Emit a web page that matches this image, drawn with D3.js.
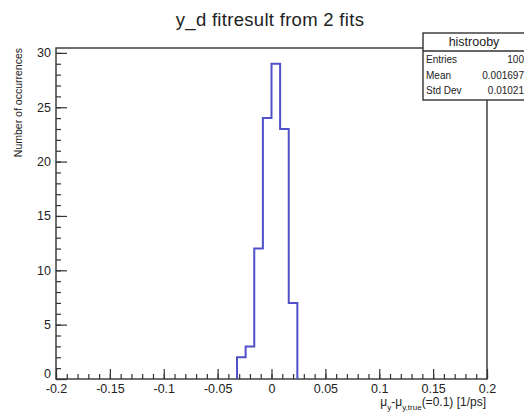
<!DOCTYPE html>
<html>
<head>
<meta charset="utf-8">
<script src="https://cdn.jsdelivr.net/npm/d3@7"></script>
<style>
  body { margin: 0; background: #fff; }
  text { font-family: "Liberation Sans", Arial, sans-serif; fill: #222; }
</style>
</head>
<body>
<div id="chart"></div>
<script>
// histogram data
const binEdges = [-0.032, -0.024, -0.016, -0.008, 0, 0.008, 0.016, 0.024];
const counts = [2, 3, 12, 24, 29, 23, 7];

const xTickValues = [-0.2, -0.15, -0.1, -0.05, 0, 0.05, 0.1, 0.15, 0.2];
const yTickValues = [0, 5, 10, 15, 20, 25, 30];

const statsNames = ["Entries", "Mean", "Std Dev"];
const statsValues = ["100", "0.001697", "0.01021"];

const W = 524, H = 413;
const frame = { left: 56, right: 487, top: 48, bottom: 379 };

const svg = d3.select("#chart")
  .append("svg")
  .attr("width", W)
  .attr("height", H);

svg.append("rect").attr("width", W).attr("height", H).attr("fill", "#fff");

const x = d3.scaleLinear().domain([-0.2, 0.2]).range([frame.left, frame.right]);
const y = d3.scaleLinear().domain([0, 30.45]).range([frame.bottom, frame.top]);

// frame
svg.append("rect")
  .attr("x", frame.left)
  .attr("y", frame.top)
  .attr("width", frame.right - frame.left)
  .attr("height", frame.bottom - frame.top)
  .attr("fill", "none")
  .attr("stroke", "#333")
  .attr("stroke-width", 1.4);

// x axis: minor ticks then major ticks + labels
svg.append("g")
  .attr("transform", `translate(0, ${frame.bottom})`)
  .call(d3.axisBottom(x).ticks(40).tickSize(-5).tickFormat(""))
  .call(g => g.select(".domain").remove());

svg.append("g")
  .attr("transform", `translate(0, ${frame.bottom})`)
  .call(d3.axisBottom(x).tickValues(xTickValues).tickSize(-10).tickPadding(5)
    .tickFormat(d => d === 0 ? "0" : String(d)))
  .call(g => g.select(".domain").remove())
  .selectAll("text")
    .style("font-size", "12.5px");

// y axis
svg.append("g")
  .attr("transform", `translate(${frame.left}, 0)`)
  .call(d3.axisLeft(y).tickValues(d3.range(0, 31, 1)).tickSize(-5).tickFormat(""))
  .call(g => g.select(".domain").remove());

svg.append("g")
  .attr("transform", `translate(${frame.left}, 0)`)
  .call(d3.axisLeft(y).tickValues(yTickValues).tickSize(-11).tickPadding(5))
  .call(g => g.select(".domain").remove())
  .selectAll("text")
    .style("font-size", "12.5px")
    .attr("dy", (d) => d === 0 ? "-0.1em" : "0.32em");

svg.selectAll(".tick line").attr("stroke", "#333").attr("stroke-width", 1.2);

// histogram outline
const pts = [[binEdges[0], 0]];
counts.forEach((c, i) => {
  pts.push([binEdges[i], c]);
  pts.push([binEdges[i + 1], c]);
});
pts.push([binEdges[binEdges.length - 1], 0]);

svg.append("path")
  .datum(pts)
  .attr("fill", "none")
  .attr("stroke", "#5050c8")
  .attr("stroke-width", 2)
  .attr("d", d3.line().x(d => x(d[0])).y(d => y(d[1])));

// title
svg.append("text")
  .attr("x", 270)
  .attr("y", 26)
  .attr("text-anchor", "middle")
  .style("font-size", "18.5px")
  .style("letter-spacing", "0.3px")
  .text("y_d fitresult from 2 fits");

// y axis title
svg.append("text")
  .attr("transform", "rotate(-90)")
  .attr("x", -frame.top)
  .attr("y", 22)
  .attr("text-anchor", "end")
  .style("font-size", "10.5px")
  .text("Number of occurrences");

// x axis title with subscripts
const xt = svg.append("text")
  .attr("x", frame.right - 1)
  .attr("y", 406)
  .attr("text-anchor", "end")
  .style("font-size", "12px");
xt.append("tspan").text("\u03bc");
xt.append("tspan").attr("dy", 4).style("font-size", "8px").text("y");
xt.append("tspan").attr("dy", -4).text("-\u03bc");
xt.append("tspan").attr("dy", 4).style("font-size", "8px").text("y,true");
xt.append("tspan").attr("dy", -4).text("(=0.1) [1/ps]");

// stats box
const box = { left: 423, top: 33, right: 530, bottom: 100, titleBottom: 51 };
svg.append("rect")
  .attr("x", box.left)
  .attr("y", box.top)
  .attr("width", box.right - box.left)
  .attr("height", box.bottom - box.top)
  .attr("fill", "#fff")
  .attr("stroke", "#333")
  .attr("stroke-width", 1.4);

svg.append("line")
  .attr("x1", box.left).attr("x2", box.right)
  .attr("y1", box.titleBottom).attr("y2", box.titleBottom)
  .attr("stroke", "#333").attr("stroke-width", 1.4);

svg.append("text")
  .attr("x", 474)
  .attr("y", 46)
  .attr("text-anchor", "middle")
  .style("font-size", "12.5px")
  .text("histrooby");

const rowY = d3.scalePoint().domain(statsNames).range([63, 94]);
statsNames.forEach((name, i) => {
  svg.append("text")
    .attr("x", box.left + 3)
    .attr("y", rowY(name))
    .style("font-size", "10px")
    .text(name);
  svg.append("text")
    .attr("x", 524)
    .attr("y", rowY(name))
    .attr("text-anchor", "end")
    .style("font-size", "10px")
    .text(statsValues[i]);
});
</script>
</body>
</html>
